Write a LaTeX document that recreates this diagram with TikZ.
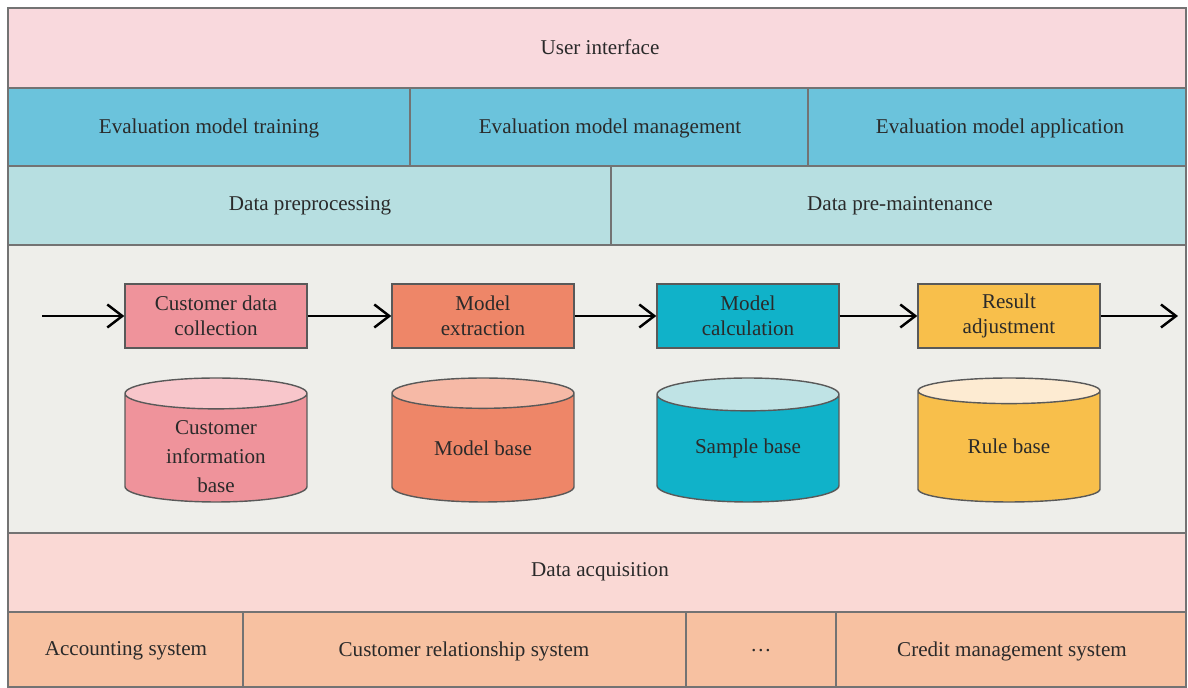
\documentclass[tikz,border=0pt]{standalone}
\usepackage{fontspec}
\setmainfont{Liberation Serif}
\usepackage{xcolor}
\usepackage{tikz}
\usetikzlibrary{arrows.meta,shapes.geometric}

\definecolor{uipink}{HTML}{F9D9DD}
\definecolor{evalblue}{HTML}{6BC3DC}
\definecolor{prepteal}{HTML}{B7DFE1}
\definecolor{midgrey}{HTML}{EEEEEA}
\definecolor{acqpink}{HTML}{FAD9D5}
\definecolor{syspeach}{HTML}{F7C1A1}
\definecolor{cpink}{HTML}{EF939B}
\definecolor{cpinktop}{HTML}{F8C6CB}
\definecolor{csalmon}{HTML}{EE8668}
\definecolor{csalmontop}{HTML}{F6B9A6}
\definecolor{ccyan}{HTML}{10B2C9}
\definecolor{ccyantop}{HTML}{BFE3E5}
\definecolor{cgold}{HTML}{F8BF4B}
\definecolor{cgoldtop}{HTML}{FDEBD2}
\definecolor{inkgrey}{HTML}{2A2A2A}

\begin{document}
\begin{tikzpicture}[x=0.02cm,y=-0.02cm,
    every node/.style={font=\fontsize{12}{14}\selectfont,text=inkgrey},
    layer/.style={draw=black!55,line width=0.8pt},
    stepbox/.style={rectangle,draw=black!65,line width=0.8pt,minimum width=3.64cm,
      minimum height=1.28cm,align=center,inner sep=1pt},
    store/.style={cylinder,shape border rotate=90,aspect=0.31,draw=black!65,line width=0.8pt,
      minimum width=3.64cm,minimum height=2.48cm,cylinder uses custom fill,align=center,
      inner sep=0pt,anchor=shape center},
    flow/.style={-{Straight Barb[length=3mm,width=4.6mm]},line width=1.4pt,black}]
  \useasboundingbox (0,0) rectangle (1188,688);
  % layers
  \draw[layer,fill=uipink] (8,8) rectangle (1186,88);
  \draw[layer,fill=evalblue] (8,88) rectangle (1186,166);
  \draw[layer] (410,88) -- (410,166) (808,88) -- (808,166);
  \draw[layer,fill=prepteal] (8,166) rectangle (1186,245);
  \draw[layer] (611,166) -- (611,245);
  \draw[layer,fill=midgrey] (8,245) rectangle (1186,533);
  \draw[layer,fill=acqpink] (8,533) rectangle (1186,612);
  \draw[layer,fill=syspeach] (8,612) rectangle (1186,687);
  \draw[layer] (243,612) -- (243,687) (686,612) -- (686,687) (836,612) -- (836,687);
  \node (ui) at (600,47) {User interface};
  \node (train) at (209,128) {Evaluation model training};
  \node (manage) at (610,128) {Evaluation model management};
  \node (apply) at (1000,128) {Evaluation model application};
  \node (prep) at (310,206) {Data preprocessing};
  \node (maint) at (900,206) {Data pre-maintenance};
  \node (acq) at (600,572) {Data acquisition};
  \node (acc) at (126,651) {Accounting system};
  \node (crm) at (464,651) {Customer relationship system};
  \node (etc) at (761,651) {\dots};
  \node (credit) at (1012,651) {Credit management system};
  % process
  \node[stepbox,fill=cpink] (collect) at (216,316) {Customer data\\collection};
  \node[stepbox,fill=csalmon] (extract) at (483,316) {Model\\extraction};
  \node[stepbox,fill=ccyan] (calc) at (748,316) {Model\\calculation};
  \node[stepbox,fill=cgold] (adjust) at (1009,316) {Result\\adjustment};
  \coordinate (start) at (42,316);
  \coordinate (finish) at (1178,316);
  \draw[flow] (start) -- (collect);
  \draw[flow] (collect) -- (extract);
  \draw[flow] (extract) -- (calc);
  \draw[flow] (calc) -- (adjust);
  \draw[flow] (adjust) -- (finish);
  % bases
  \node[store,cylinder body fill=cpink,cylinder end fill=cpinktop] (cinfo) at (216,440)
    {\raisebox{-8.5pt}[0pt][0pt]{\fontsize{12}{16.5}\selectfont\begin{tabular}{@{}c@{}}Customer\\information\\base\end{tabular}}};
  \node[store,cylinder body fill=csalmon,cylinder end fill=csalmontop] (mbase) at (483,440) {Model base};
  \node[store,cylinder body fill=ccyan,cylinder end fill=ccyantop] (sbase) at (748,440) {Sample base};
  \node[store,cylinder body fill=cgold,cylinder end fill=cgoldtop] (rbase) at (1009,440) {Rule base};
\end{tikzpicture}
\end{document}
